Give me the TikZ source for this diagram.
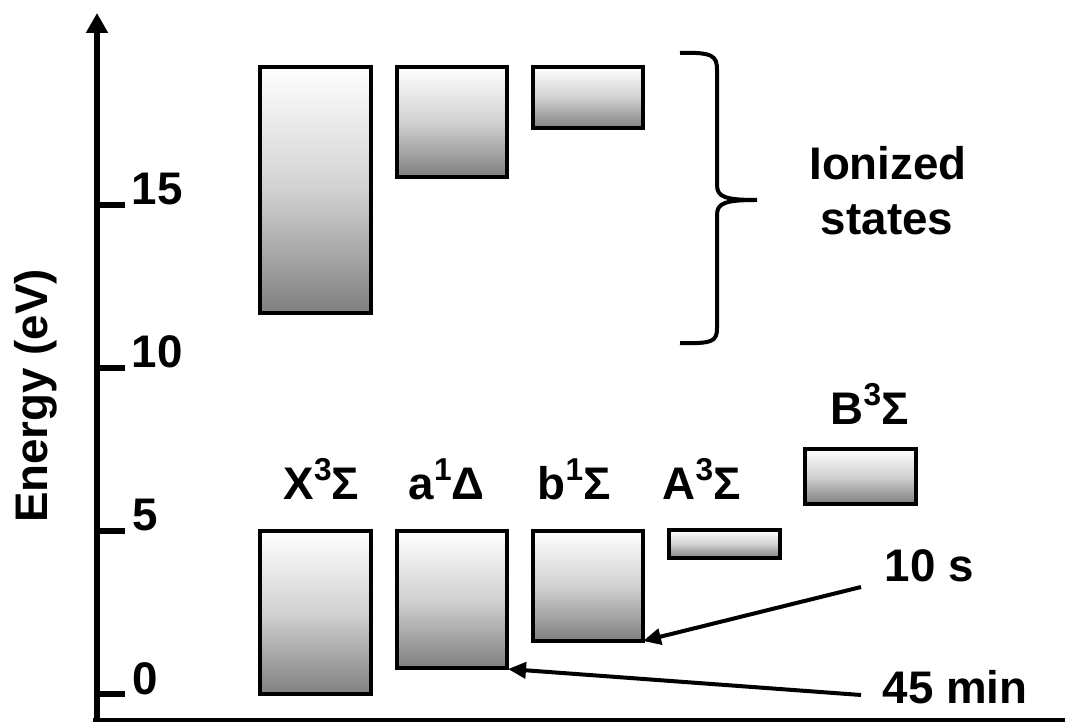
\documentclass[tikz,border=0pt]{standalone}
\usepackage{fontspec}
\setmainfont{Liberation Sans}
\usetikzlibrary{arrows.meta}

\newcommand{\sps}[1]{\raisebox{0.42em}{\fontsize{9}{9}\selectfont #1}}

\tikzset{
    lvl/.style={draw, line width=0.4mm, top color=white, bottom color=black!50, middle color=black!18},
    lbl/.style={anchor=base west, inner sep=0pt, font=\fontsize{13}{15}\selectfont\bfseries},
    ptr/.style={line width=0.4mm, -{Triangle[length=1.8mm,width=1.6mm]}}
}

\begin{document}
\begin{tikzpicture}[x=0.1mm,y=-0.1mm]
        \useasboundingbox (0,0) rectangle (1065,722);

        % axes
        \draw[line width=0.6mm,-{Triangle[length=2mm,width=2.1mm]}] (97,721) -- (97,13);
        \draw[line width=0.4mm] (93,720) -- (1065,720);
        \node[rotate=90, font=\fontsize{13}{15}\selectfont\bfseries] (elabel) at (36,396) {Energy (eV)};

        \draw[line width=0.6mm] (97,694) -- (125,694);
        \draw[line width=0.6mm] (97,531) -- (125,531);
        \draw[line width=0.6mm] (97,368) -- (125,368);
        \draw[line width=0.6mm] (97,205) -- (125,205);
        \node[lbl] (t0) at (132,694) {0};
        \node[lbl] (t5) at (132,531) {5};
        \node[lbl] (t10) at (131,368) {10};
        \node[lbl] (t15) at (131,205) {15};

        % ionized states
        \draw[lvl] (260,67) rectangle (371,313);
        \draw[lvl] (397,67) rectangle (507,177);
        \draw[lvl] (533,67) rectangle (643,128);

        \draw[line width=0.4mm] (680,53) .. controls (713,52) and (717,56) .. (717,70) -- (717,185)
            .. controls (717,197) and (725,200) .. (757,200)
            .. controls (725,200) and (717,203) .. (717,215) -- (717,328)
            .. controls (717,341) and (713,344) .. (680,343);
        \node[lbl, anchor=base] (ion) at (888,180) {Ionized};
        \node[lbl, anchor=base] (states) at (887,235) {states};

        % bound states
        \draw[lvl] (260,531) rectangle (371,694);
        \draw[lvl] (397,531) rectangle (507,668);
        \draw[lvl] (533,531) rectangle (643,641);
        \draw[lvl] (669,530) rectangle (780,558);
        \draw[lvl] (805,449) rectangle (916,504);

        \node[lbl] (X) at (283,500) {X\sps{3}Σ};
        \node[lbl] (a) at (408,500) {a\sps{1}Δ};
        \node[lbl] (b) at (537,500) {b\sps{1}Σ};
        \node[lbl] (A) at (662,500) {A\sps{3}Σ};
        \node[lbl] (B) at (830,425) {B\sps{3}Σ};

        % lifetimes
        \coordinate (bend) at (643,641);
        \coordinate (aend) at (508,669);
        \coordinate (tenfrom) at (861,587);
        \coordinate (minfrom) at (861,695);
        \node[lbl] (ten) at (884,582) {10 s};
        \node[lbl] (min) at (882,703) {45 min};
        \draw[ptr] (tenfrom) -- (bend);
        \draw[ptr] (minfrom) -- (aend);
    \end{tikzpicture}
\end{document}
